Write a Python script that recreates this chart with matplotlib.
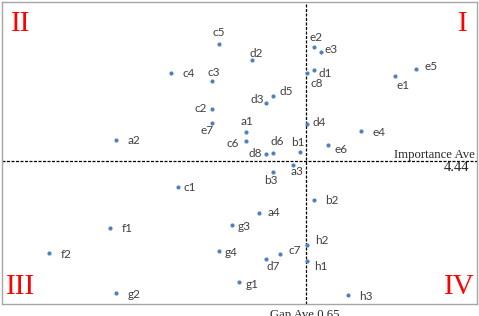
import matplotlib
matplotlib.use("Agg")
import matplotlib.pyplot as plt

# Data: (gap, importance)
labels = ["c5","c4","c3","c2","e7","a2","d2","e2","e3","c8","d1","e1","e5","d5","d3",
          "a1","c6","d4","e4","e6","b1","d8","d6","a3","b3","c1","f1","f2","g4","g2",
          "g3","b2","a4","h2","c7","d7","h1","g1","h3"]
gap = [-0.22,-0.70,-0.29,-0.29,-0.29,-1.25,0.11,0.73,0.80,0.66,0.73,1.54,1.75,0.32,0.25,
       0.05,0.05,0.66,1.20,0.87,0.59,0.25,0.32,0.52,0.32,-0.63,-1.31,-1.92,-0.22,-1.25,
       -0.09,0.73,0.18,0.66,0.39,0.25,0.66,-0.02,1.07]
importance = [5.61,5.32,5.24,4.96,4.82,4.65,5.45,5.58,5.53,5.32,5.35,5.29,5.36,5.09,5.02,
              4.73,4.64,4.81,4.74,4.60,4.53,4.51,4.52,4.40,4.33,4.18,3.77,3.52,3.54,3.12,
              3.80,4.05,3.92,3.60,3.51,3.46,3.44,3.23,3.10]
gap_ave = 0.65
imp_ave = 4.44

# label offsets in pixels (dx right, dy down)
offsets = {"c5":(0,-11),"c4":(18,1),"c3":(2,-8),"c2":(-11,0),"e7":(-5,7),"a2":(18,0),
           "d2":(4,-7),"e2":(2,-10),"e3":(10,-2),"d1":(11,3),"c8":(10,11),"e1":(8,9),
           "e5":(15,-2),"d5":(13,-5),"d3":(-9,-4),"a1":(1,-10),"c6":(-13,2),"d6":(4,-12),
           "d8":(-11,-1),"b1":(-2,-9),"d4":(12,-2),"e4":(18,1),"e6":(13,4),"a3":(4,7),
           "b3":(-2,9),"c1":(12,0),"f1":(17,0),"f2":(17,1),"g4":(12,1),"g3":(12,1),
           "a4":(15,0),"c7":(15,-3),"d7":(7,7),"g1":(13,2),"h2":(15,-5),"h1":(14,6),
           "b2":(18,1),"h3":(18,1),"g2":(18,1)}

W, H = 479, 316
fig = plt.figure(figsize=(W/100, H/100), dpi=100)
L, R, T, B = 2, 477, 2, 304
ax = fig.add_axes([L/W, 1-B/H, (R-L)/W, (B-T)/H])
ax.set_xlim((L-241)/100, (R-241)/100)
ax.set_ylim((605-B)/100, (605-T)/100)
ax.set_xticks([]); ax.set_yticks([])
for s in ax.spines.values():
    s.set_color("#a6a6a6"); s.set_linewidth(1.0)

ax.axvline(gap_ave, color="black", lw=0.9, dashes=(2.4, 1.2), zorder=1)
ax.axhline(imp_ave, color="black", lw=0.9, dashes=(2.4, 1.2), zorder=1)

ax.scatter(gap, importance, s=9, color="#4F81BD", zorder=3, linewidths=0)

for lab, x, y in zip(labels, gap, importance):
    dx, dy = offsets[lab]
    ax.annotate(lab, (x, y), xytext=(dx, -dy), textcoords="offset pixels",
                ha="center", va="center", fontsize=8.5, family="Lato", color="#404040")

def ftext(px, py, s, **kw):
    fig.text(px/W, 1-py/H, s, **kw)

red = dict(color="#FF0000", family="Liberation Serif", fontsize=21, ha="center", va="center")
ftext(20.5, 24, "II", **red)
ftext(463, 24, "I", **red)
ftext(21, 286.5, "III", **red)
ftext(459, 286.5, "IV", **red)

ftext(474.5, 155, "Importance Ave", family="Liberation Serif", fontsize=9.2, color="#262626",
      ha="right", va="center")
ftext(469.5, 167.5, "4.44", family="Liberation Serif", fontsize=10.5, color="#262626",
      ha="right", va="center")
ftext(304.5, 309, "Gap Ave 0.65", family="Liberation Serif", fontsize=9.2, color="#262626",
      ha="center", va="top")

fig.savefig("out.png", dpi=100)
